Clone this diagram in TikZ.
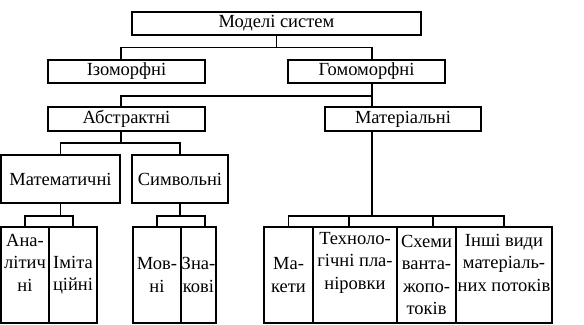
\documentclass[tikz,border=0pt]{standalone}
\usepackage{fontspec}
\setmainfont{Liberation Serif}
\usetikzlibrary{calc}
\tikzset{
  blok/.style={draw,line width=1.1bp,inner sep=0pt,align=center,minimum height=23bp},
  cell/.style={draw,line width=1.1bp,inner sep=0pt,align=center,minimum height=96bp},
  lines/.style={inner sep=0pt,align=center},
  link/.style={line width=1.1bp},
}

\begin{document}
\begin{tikzpicture}[x=1bp,y=-1bp,font=\fontsize{18.5bp}{22.5bp}\selectfont]
\useasboundingbox (0,0) rectangle (584,324);

% upper levels
\node[blok,minimum width=289bp] (models) at (276.5,23.5) {Моделі систем};
\node[blok,minimum width=157bp] (izo) at (126.5,71.5) {Ізоморфні};
\node[blok,minimum width=157bp] (homo) at (366.5,71.5) {Гомоморфні};
\node[blok,minimum width=157bp,minimum height=24bp] (abstr) at (126.5,119) {Абстрактні};
\node[blok,minimum width=156bp,minimum height=24bp] (mater) at (403,119) {Матеріальні};
\node[blok,minimum width=119bp,minimum height=48bp] (matem) at (60.5,179) {Математичні};
\node[blok,minimum width=96bp,minimum height=48bp] (symv) at (180,179) {Символьні};

% bottom cells
\node[cell,minimum width=48bp] (analit) at (25,275) {};
\node[lines,yshift=12.5bp] (analit-txt) at (analit.center) {Ана-\\літич\\ні};
\node[cell,minimum width=48bp] (imit) at (73,275) {Іміта\\ційні};
\node[cell,minimum width=48bp] (movni) at (157,275) {Мов-\\ні};
\node[cell,minimum width=35bp] (znak) at (198.5,275) {Зна-\\кові};
\node[cell,minimum width=49bp] (maketi) at (288.5,275) {Ма-\\кети};
\node[cell,minimum width=84bp] (tekhno) at (355,275) {};
\node[lines,yshift=12.5bp] (tekhno-txt) at (tekhno.center) {Техноло-\\гічні пла-\\ніровки};
\node[cell,minimum width=59bp] (skhemy) at (426.5,275) {Схеми\\ванта-\\жопо-\\токів};
\node[cell,minimum width=96bp] (inshi) at (504,275) {};
\node[lines,yshift=12.5bp] (inshi-txt) at (inshi.center) {Інші види\\матеріаль-\\них потоків};

% bus lines
\coordinate (lx) at (121,0);
\coordinate (rx) at (372,0);
\coordinate (bus1) at (0,47.5);
\coordinate (bus2) at (0,96);
\coordinate (bus3) at (0,143);
\coordinate (bus4) at (0,216);
\coordinate (znak-top) at ([xshift=6.5bp]znak.north);
\coordinate (tekhno-top) at ([xshift=-6bp]tekhno.north);
\coordinate (skhemy-top) at ([xshift=6.5bp]skhemy.north);

\draw[link] (models.south) -- (models.south |- bus1);
\draw[link] (izo.north -| lx) |- (bus1 -| rx) -- (homo.north -| rx);
\draw[link] (homo.south -| rx) -- (mater.north -| rx);
\draw[link] (abstr.north -| lx) |- (bus2 -| rx);
\draw[link] (abstr.south -| lx) -- (bus3 -| lx);
\draw[link] (matem.north) |- (bus3 -| symv.north) -- (symv.north);
\draw[link] (matem.south) -- (matem.south |- bus4);
\draw[link] (analit.north) |- (bus4 -| imit.north) -- (imit.north);
\draw[link] (symv.south) -- (symv.south |- bus4);
\draw[link] (movni.north) |- (bus4 -| znak-top) -- (znak-top);
\draw[link] (mater.south -| rx) -- (bus4 -| rx);
\draw[link] (maketi.north) |- (bus4 -| inshi.north) -- (inshi.north);
\draw[link] (tekhno-top) -- (bus4 -| tekhno-top);
\draw[link] (skhemy-top) -- (bus4 -| skhemy-top);

\end{tikzpicture}
\end{document}
